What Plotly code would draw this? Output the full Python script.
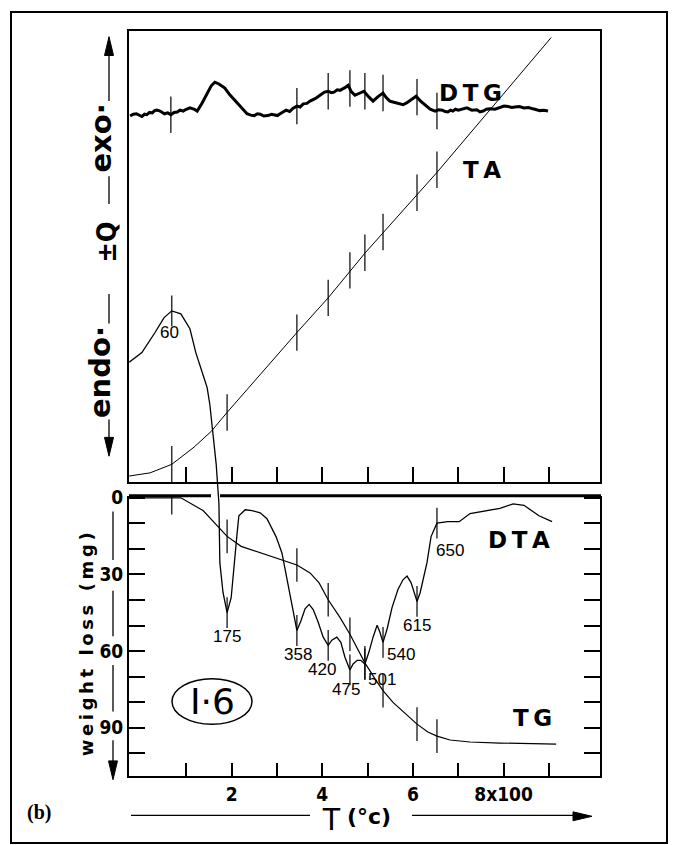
import plotly.graph_objects as go

# ---------------- data (temperature T in °C on x) ----------------
# TA curve (top panel, arbitrary units 0-100)
ta_T = [-26, 20, 68, 117, 155, 190, 344, 413, 494, 609, 653, 905]
ta_y = [1.3, 2.0, 3.9, 7.7, 11.2, 15.4, 33.1, 40.8, 50.7, 63.6, 68.6, 98.5]

# DTG curve (top panel, arbitrary units)
dtg_T = [-24, -17, -10, -4, 2, 8, 13, 19, 25, 30, 35, 42, 47, 52, 59, 66, 73, 80, 86, 93, 100, 108,
         118, 124, 135, 146, 155, 163, 172, 185, 196, 207, 214, 223, 234, 242, 250, 257, 263, 271,
         280, 288, 295, 301, 307, 320, 328, 335, 344, 351, 358, 366, 373, 385, 395, 405, 413, 420,
         426, 433, 439, 445, 450, 457, 464, 472, 482, 492, 502, 512, 523, 534, 541, 549, 556, 563,
         571, 578, 586, 593, 607, 617, 627, 638, 649, 657, 665, 671, 677, 683, 688, 694, 700, 710,
         719, 730, 741, 748, 755, 762, 770, 781, 792, 801, 810, 818, 825, 835, 845, 855, 865, 872,
         880, 889, 898]
dtg_y = [81.1, 81.5, 81.6, 81.2, 81.0, 81.5, 81.4, 81.9, 81.8, 82.3, 82.4, 82.2, 81.9, 81.6, 81.8,
         81.4, 81.9, 82.0, 82.4, 82.2, 82.6, 82.9, 82.6, 82.2, 84.0, 86.2, 87.8, 88.6, 88.2, 87.3,
         85.8, 84.6, 83.8, 82.9, 81.6, 81.3, 81.2, 81.6, 81.5, 81.1, 81.2, 81.5, 81.4, 81.2, 81.6,
         82.4, 82.1, 82.8, 83.3, 83.1, 83.8, 83.9, 84.4, 85.0, 85.7, 86.4, 86.6, 86.3, 86.4, 86.9,
         86.8, 87.1, 87.4, 87.9, 86.5, 85.7, 86.2, 86.6, 85.4, 84.4, 85.4, 86.2, 85.2, 84.4, 84.2,
         84.0, 83.7, 83.6, 84.0, 84.5, 85.5, 84.4, 83.6, 82.6, 82.2, 82.5, 82.4, 82.1, 82.0, 82.4,
         82.2, 82.6, 82.4, 82.7, 82.9, 82.4, 82.5, 82.0, 82.2, 82.6, 82.7, 82.6, 82.9, 83.3, 83.2,
         83.0, 83.1, 83.2, 82.9, 83.0, 82.7, 82.5, 82.3, 82.4, 82.2]

# DTA curve (spans both panels, arbitrary units)
dta_T = [-26, 2, 31, 51, 68, 88, 108, 121, 137, 146, 152, 159, 166, 172, 174, 181, 190, 199,
         207, 212, 216, 230, 245, 263, 278, 298, 311, 322, 333, 344, 353, 362, 371, 380, 391,
         402, 413, 421, 432, 441, 450, 461, 468, 477, 485, 494, 503, 512, 521, 527, 534, 543,
         554, 567, 578, 587, 596, 602, 609, 616, 624, 631, 640, 653, 677, 702, 726, 755, 792,
         821, 845, 878, 907]
dta_y = [55.5, 56.8, 59.5, 61.5, 62.4, 62.0, 60.0, 56.8, 53.8, 52.1, 49.8, 45.8, 41.8, 36.5,
         28.6, 24.6, 21.9, 23.9, 28.6, 32.5, 34.9, 35.7, 35.6, 35.3, 34.5, 32.1, 29.9, 26.6,
         23.2, 19.5, 20.8, 22.4, 23.0, 22.3, 20.6, 18.6, 17.5, 18.2, 18.6, 17.9, 15.9, 14.2,
         15.0, 15.5, 15.5, 15.0, 16.6, 18.6, 20.2, 19.3, 17.9, 19.7, 22.6, 25.0, 26.3, 26.8,
         25.9, 24.6, 23.4, 24.6, 27.0, 28.6, 32.1, 33.9, 34.1, 34.1, 35.2, 35.5, 35.9, 36.5,
         36.3, 34.9, 34.1]

# TG curve (bottom panel, weight loss in mg)
tg_T = [-26, 88, 137, 163, 190, 221, 278, 316, 344, 373, 393, 413, 439, 461, 479, 494, 516,
        534, 556, 583, 609, 633, 653, 682, 726, 792, 858, 916]
tg_w = [0.0, 0.0, 5.0, 10.1, 15.1, 19.0, 22.4, 24.4, 26.3, 29.4, 33.3, 39.9, 46.8, 53.4, 59.6,
        64.6, 70.8, 75.5, 80.1, 84.4, 88.6, 91.7, 93.3, 94.8, 95.6, 96.0, 96.2, 96.4]

# peak temperatures (marks on the curves) and their labels
mark_T = [68, 190, 344, 413, 461, 494, 534, 609, 653]
peak_labels = ['60', '175', '358', '420', '475', '501', '540', '615', '650']
dta_mark = [62.4, 21.9, 19.5, 17.5, 14.2, 15.0, 17.9, 23.4, 33.9]
ta_mark = [3.9, 15.4, 33.1, 40.8, 46.9, 50.8, 55.4, 64.1, 69.2]
tg_mark = [0.0, 15.1, 26.3, 39.9, 53.4, 64.6, 75.5, 88.6, 93.3]
dtg_mark_T = [66, 344, 413, 461, 494, 534, 609, 653]
dtg_mark = [81.4, 83.3, 86.6, 87.2, 86.6, 86.2, 85.3, 82.2]

x_ticks = [100, 200, 300, 400, 500, 600, 700, 800, 900]
x_ticktext = ['', '2', '', '4', '', '6', '', '8x100', '']
y_ticks = [0, 10, 20, 30, 40, 50, 60, 70, 80, 90, 100]
y_ticktext = ['0', '', '', '30', '', '', '60', '', '', '90', '']

# ---------------- layout helpers ----------------
W, H = 674, 845
def px(x):
    return x / W
def py(y):
    return 1 - y / H

XR = [-26.4, 1012.7]
XDOM = [px(129), px(600)]
TOPDOM = [py(478), py(22)]
BOTDOM = [py(775), py(492)]
ALLDOM = [py(775), py(22)]

label_shift = [(-2, -22), (0, -24), (1, -24), (-6, -24), (-4, -20), (17, -16), (18, -12), (0, -24), (13, -27)]

BLK = 'black'
NUMFONT = dict(family='Liberation Sans, Arial, sans-serif', size=17, color=BLK)
BOLDCOND = dict(family='DejaVu Sans Condensed, DejaVu Sans, sans-serif', size=19, color=BLK, weight='bold')
TS = '\u2009'

fig = go.Figure()

def marks(x, y, xa, ya, size):
    fig.add_trace(go.Scatter(x=x, y=y, xaxis=xa, yaxis=ya, mode='markers', hoverinfo='skip',
                             marker=dict(symbol='line-ns', size=size, color=BLK,
                                         line=dict(color=BLK, width=1.2))))

fig.add_trace(go.Scatter(x=ta_T, y=ta_y, xaxis='x2', yaxis='y2', mode='lines',
                         line=dict(color=BLK, width=1)))
marks(mark_T, ta_mark, 'x2', 'y2', 26)
fig.add_trace(go.Scatter(x=dtg_T, y=dtg_y, xaxis='x2', yaxis='y2', mode='lines',
                         line=dict(color=BLK, width=3)))
marks(dtg_mark_T, dtg_mark, 'x2', 'y2', 26)
fig.add_trace(go.Scatter(x=tg_T, y=tg_w, xaxis='x', yaxis='y', mode='lines',
                         line=dict(color=BLK, width=1.2)))
marks(mark_T, tg_mark, 'x', 'y', 24)
fig.add_trace(go.Scatter(x=dta_T, y=dta_y, xaxis='x3', yaxis='y3', mode='lines',
                         line=dict(color=BLK, width=1.3)))
marks(mark_T, dta_mark, 'x3', 'y3', 22)

annotations = []
for t, v, lab, (dx, dy) in zip(mark_T, dta_mark, peak_labels, label_shift):
    annotations.append(dict(x=t, y=v, xref='x3', yref='y3', text=lab, showarrow=False,
                            xshift=dx, yshift=dy, font=NUMFONT))

def ptext(x, y, text, font, angle=0, **kw):
    d = dict(x=px(x), y=py(y), xref='paper', yref='paper', text=text, showarrow=False,
             textangle=angle, font=font, xanchor='center', yanchor='middle')
    d.update(kw)
    annotations.append(d)

BIG = dict(family='DejaVu Sans, sans-serif', size=23, color=BLK, weight='bold')
ptext(470, 85, TS.join('DTG'), BIG)
ptext(482, 163, TS.join('TA'), BIG)
ptext(519, 537, TS.join('DTA'), BIG)
ptext(532, 717, TS.join('TG'), BIG)
ptext(101, 131, 'exo·', dict(family='DejaVu Sans, sans-serif', size=29, color=BLK, weight='bold'), -90)
ptext(106, 236, '±Q', dict(family='DejaVu Sans Condensed, DejaVu Sans, sans-serif', size=27, color=BLK, weight='bold'), -90)
ptext(100, 367, 'endo·', dict(family='DejaVu Sans, sans-serif', size=29, color=BLK, weight='bold'), -90)
ptext(86, 642, TS.join('weight loss (mg)'), dict(family='DejaVu Sans, sans-serif', size=18, color=BLK, weight='bold'), -90)
ptext(212, 700, 'I·6', dict(family='DejaVu Sans, sans-serif', size=36, color=BLK))
ptext(39, 812, '(b)', dict(family='Liberation Serif, serif', size=20, color=BLK, weight='bold'))
ptext(331, 819, 'T', dict(family='Liberation Sans, sans-serif', size=31, color=BLK))
ptext(369, 816, '(°c)', dict(family='DejaVu Sans, sans-serif', size=22, color=BLK, weight='bold'))

shapes = []
def seg(x0, y0, x1, y1, w=1.2):
    shapes.append(dict(type='line', xref='paper', yref='paper', x0=px(x0), y0=py(y0),
                       x1=px(x1), y1=py(y1), line=dict(color=BLK, width=w)))
def tri(pts):
    path = 'M ' + ' L '.join(f'{px(a)},{py(b)}' for a, b in pts) + ' Z'
    shapes.append(dict(type='path', xref='paper', yref='paper', path=path,
                       fillcolor=BLK, line=dict(color=BLK, width=1)))

# outer frame
shapes.append(dict(type='rect', xref='paper', yref='paper', x0=px(11), x1=px(667),
                   y0=py(843), y1=py(3), line=dict(color=BLK, width=2)))
# bottom panel top edge (broken where DTA passes)
seg(129, 492, 211, 492, 3)
seg(220, 492, 601, 492, 3)
# top-left ±Q arrow
for a, b in [(45, 93), (169, 197), (288, 318), (415, 436)]:
    seg(109, a, 109, b, 1.3)
tri([(109, 28), (104.5, 47), (113.5, 47)])
tri([(109, 452), (104.5, 433), (113.5, 433)])
# weight loss axis arrow
for a, b in [(508, 557), (588, 634), (663, 710), (739, 762)]:
    seg(113, a, 113, b, 1.3)
tri([(113, 779), (108.5, 760), (117.5, 760)])
# temperature arrow
seg(131, 815, 310, 815, 1.3)
seg(412, 815, 576, 815, 1.3)
tri([(592, 816), (573, 811.5), (573, 820.5)])
# ellipse round sample name
shapes.append(dict(type='circle', xref='paper', yref='paper', x0=px(172), x1=px(252),
                   y0=py(723), y1=py(677), line=dict(color=BLK, width=1.5)))

axcommon = dict(showgrid=False, zeroline=False, linecolor=BLK, linewidth=2, tickcolor=BLK)

fig.update_layout(
    width=W, height=H, margin=dict(l=0, r=0, t=0, b=0),
    paper_bgcolor='white', plot_bgcolor='rgba(0,0,0,0)', showlegend=False,
    xaxis=dict(domain=XDOM, range=XR, anchor='y', showline=True, mirror=False,
               ticks='inside', ticklen=13, tickwidth=1.5, tickvals=x_ticks, ticktext=x_ticktext,
               tickfont=BOLDCOND, **axcommon),
    yaxis=dict(domain=BOTDOM, range=[108.8, -0.8], anchor='x', showline=True, mirror='ticks',
               ticks='inside', ticklen=16, tickwidth=1.5, tickvals=y_ticks, ticktext=y_ticktext,
               tickfont=BOLDCOND, **axcommon),
    xaxis2=dict(domain=XDOM, range=XR, anchor='y2', showline=True, mirror=True,
                ticks='inside', ticklen=15, tickwidth=1.5, tickvals=x_ticks,
                showticklabels=False, **axcommon),
    yaxis2=dict(domain=TOPDOM, range=[0, 100], anchor='x2', showline=True, mirror=True,
                ticks='', showticklabels=False, **axcommon),
    xaxis3=dict(domain=XDOM, range=XR, anchor='y3', visible=False),
    yaxis3=dict(domain=ALLDOM, range=[0, 100], anchor='x3', visible=False),
    annotations=annotations, shapes=shapes,
)

fig.write_html('out.html')
